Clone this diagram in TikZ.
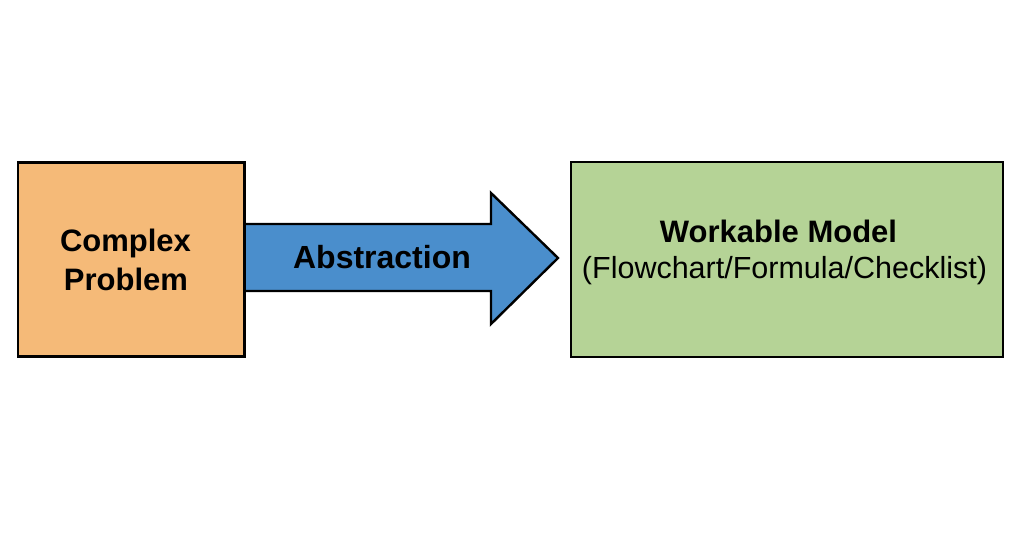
\documentclass[tikz,border=0pt]{standalone}
\usepackage{fontspec}
\setmainfont{Liberation Sans}
\definecolor{boxorange}{HTML}{F5BA78}
\definecolor{arrowblue}{HTML}{4A8ECC}
\definecolor{boxgreen}{HTML}{B5D396}
\tikzset{
  box/.style={draw=black, line width=2.4pt, inner sep=0pt},
  bigbold/.style={font=\fontsize{31}{39}\selectfont\bfseries, align=center, inner sep=0pt},
  subtext/.style={font=\fontsize{30.5}{36}\selectfont, inner sep=0pt}
}
\begin{document}
\begin{tikzpicture}[x=1pt,y=-1pt]
  \useasboundingbox (0,0) rectangle (1024,538);
  \fill[white] (0,0) rectangle (1024,538);
  % boxes
  \node[box, fill=boxorange, minimum width=226pt, minimum height=194pt] (prob) at (131,259.5) {};
  \node[box, fill=boxgreen, minimum width=432pt, minimum height=195pt] (model) at (787,259.5) {};
  % arrow
  \coordinate (tip) at (558,258);
  \draw[line width=2.4pt, fill=arrowblue, line join=miter]
    (prob.east |- 0,224) -- (491,224) -- (491,193) -- (tip) -- (491,324) -- (491,291) -- (prob.east |- 0,291);
  \draw[line width=2.4pt] (prob.north east) -- (prob.south east);
  % texts
  \node[bigbold, anchor=base] (t1) at (125.5,251) {Complex};
  \node[bigbold, anchor=base] (t2) at (126,290) {Problem};
  \node[bigbold, font=\fontsize{32}{39}\selectfont\bfseries, anchor=base] (abs) at (382,268) {Abstraction};
  \node[bigbold, anchor=base] (wm) at (778.5,242) {Workable Model};
  \node[subtext, anchor=base] (sub) at (784.5,278) {(Flowchart/Formula/Checklist)};
\end{tikzpicture}
\end{document}
